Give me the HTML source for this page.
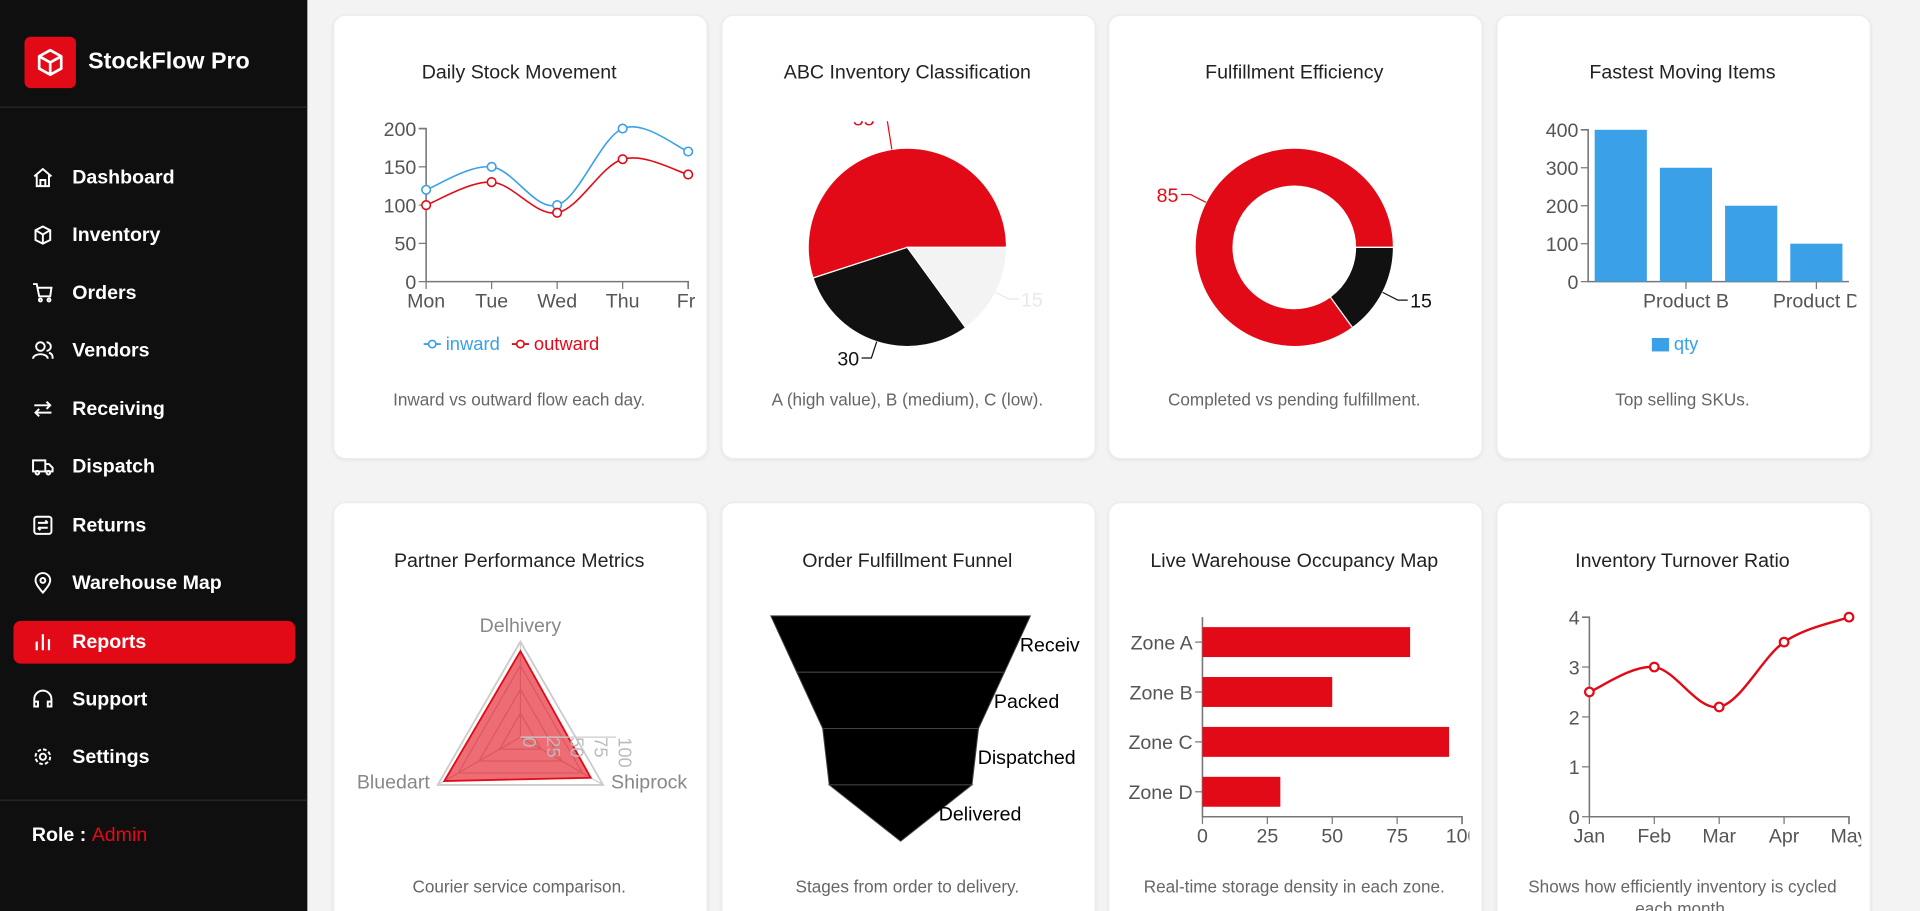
<!DOCTYPE html>
<html><head><meta charset="utf-8"><title>StockFlow Pro Reports</title>
<style>
html,body{margin:0;padding:0;width:1920px;height:911px;overflow:hidden;background:#f3f3f4;font-family:"Liberation Sans",sans-serif;}
#wrap{position:absolute;left:0;top:0;width:1568px;height:744px;overflow:hidden;transform:scale(1.22449);transform-origin:0 0;}
#sidebar{position:absolute;left:0;top:0;width:251px;height:744px;background:#0f0f0f;color:#fff;}
.logo{position:absolute;left:20px;top:30px;width:42px;height:42px;background:#e30a17;border-radius:5px;}
.brand{position:absolute;left:72px;top:40px;font-size:19px;font-weight:bold;color:#fff;}
.divider{position:absolute;left:0;width:251px;height:1px;background:#2b2b2b;}
.nav{position:absolute;left:11px;width:230px;height:35px;border-radius:6px;}
.nav.active{background:#e30a17;}
.nav svg{position:absolute;left:15px;top:8px;}
.nav span{position:absolute;left:48px;top:9px;font-size:16px;font-weight:bold;color:#fff;}
.role{position:absolute;left:26px;top:674px;font-size:16px;color:#fff;font-weight:bold;}
.role b{color:#e30a17;font-weight:normal;}
.card{position:absolute;background:#fff;border-radius:10px;border:1px solid #ececef;box-shadow:0 1px 3px rgba(0,0,0,0.06);}
.title{position:absolute;width:304px;text-align:center;font-size:16px;color:#222;}
.desc{position:absolute;width:304px;text-align:center;font-size:14px;color:#666;line-height:18px;}
svg.chart{position:absolute;overflow:hidden;}
svg text{font-family:"Liberation Sans",sans-serif;}
</style></head><body>
<div id="wrap">
<div id="sidebar">
  <div class="logo">
    <svg width="42" height="42" viewBox="0 0 42 42"><g fill="none" stroke="#fff" stroke-width="2.2" stroke-linejoin="round"><path d="M21 11 L30 16 L30 26 L21 31 L12 26 L12 16 Z"/><path d="M12 16 L21 21 L30 16 M21 21 L21 31"/></g></svg>
  </div>
  <div class="brand">StockFlow Pro</div>
  <div class="divider" style="top:87px"></div>
  <div class="nav" style="top:128px"><svg width="18" height="18" viewBox="0 0 18 18" fill="none" stroke="#fff" stroke-width="1.6"><path d="M2 8 L9 2 L16 8 M4 7 V16 H14 V7 M7 16 V11 H11 V16"/></svg><span>Dashboard</span></div>
  <div class="nav" style="top:175px"><svg width="18" height="18" viewBox="0 0 18 18" fill="none" stroke="#fff" stroke-width="1.6"><path d="M9 2 L15 5 V13 L9 16 L3 13 V5 Z M3 5 L9 8.5 L15 5 M9 8.5 V16"/></svg><span>Inventory</span></div>
  <div class="nav" style="top:222px"><svg width="18" height="18" viewBox="0 0 18 18" fill="none" stroke="#fff" stroke-width="1.6"><path d="M1 2 H4 L6 12 H15 L16 5 H5"/><circle cx="7" cy="15" r="1.2"/><circle cx="14" cy="15" r="1.2"/></svg><span>Orders</span></div>
  <div class="nav" style="top:269px"><svg width="18" height="18" viewBox="0 0 18 18" fill="none" stroke="#fff" stroke-width="1.6"><circle cx="7" cy="6" r="3.5"/><path d="M1 16 C1 11 13 11 13 16 M12 2.5 A3.5 3.5 0 0 1 12 9.5 M14 11 C17 12 17 14 17 16"/></svg><span>Vendors</span></div>
  <div class="nav" style="top:317px"><svg width="18" height="18" viewBox="0 0 18 18" fill="none" stroke="#fff" stroke-width="1.6"><path d="M2 6 H15 M12 3 L15 6 L12 9 M16 12 H3 M6 9 L3 12 L6 15"/></svg><span>Receiving</span></div>
  <div class="nav" style="top:364px"><svg width="18" height="18" viewBox="0 0 18 18" fill="none" stroke="#fff" stroke-width="1.6"><path d="M1 4 H11 V13 H1 Z M11 7 H14 L17 10 V13 H11"/><circle cx="4.5" cy="14" r="1.5"/><circle cx="13.5" cy="14" r="1.5"/></svg><span>Dispatch</span></div>
  <div class="nav" style="top:412px"><svg width="18" height="18" viewBox="0 0 18 18" fill="none" stroke="#fff" stroke-width="1.6"><rect x="2" y="2" width="14" height="14" rx="2"/><path d="M5 7 H13 M11 5 L13 7 M13 11 H5 M7 13 L5 11"/></svg><span>Returns</span></div>
  <div class="nav" style="top:459px"><svg width="18" height="18" viewBox="0 0 18 18" fill="none" stroke="#fff" stroke-width="1.6"><path d="M9 17 C4 11 3 9 3 7 A6 6 0 0 1 15 7 C15 9 14 11 9 17 Z"/><circle cx="9" cy="7" r="2"/></svg><span>Warehouse Map</span></div>
  <div class="nav active" style="top:507px"><svg width="18" height="18" viewBox="0 0 18 18" fill="none" stroke="#fff" stroke-width="1.8"><path d="M4 16 V9 M9 16 V3 M14 16 V7"/></svg><span>Reports</span></div>
  <div class="nav" style="top:554px"><svg width="18" height="18" viewBox="0 0 18 18" fill="none" stroke="#fff" stroke-width="1.6"><path d="M2 11 V9 A7 7 0 0 1 16 9 V11 M2 11 H5 V15 H2 Z M13 11 H16 V15 H13 Z"/></svg><span>Support</span></div>
  <div class="nav" style="top:601px"><svg width="18" height="18" viewBox="0 0 18 18" fill="none" stroke="#fff" stroke-width="1.6"><circle cx="9" cy="9" r="2.5"/><circle cx="9" cy="9" r="6" stroke-dasharray="3 1.7"/></svg><span>Settings</span></div>
  <div class="divider" style="top:653px"></div>
  <div class="role">Role : <b>Admin</b></div>
</div>

<div class="card" style="left:272px;top:12px;width:304px;height:361px"></div>
<div class="card" style="left:589px;top:12px;width:304px;height:361px"></div>
<div class="card" style="left:905px;top:12px;width:304px;height:361px"></div>
<div class="card" style="left:1222px;top:12px;width:304px;height:361px"></div>
<div class="card" style="left:272px;top:410px;width:304px;height:360px"></div>
<div class="card" style="left:589px;top:410px;width:304px;height:360px"></div>
<div class="card" style="left:905px;top:410px;width:304px;height:360px"></div>
<div class="card" style="left:1222px;top:410px;width:304px;height:360px"></div>

<div class="title" style="left:272px;top:51px">Daily Stock Movement</div>
<div class="title" style="left:589px;top:51px">ABC Inventory Classification</div>
<div class="title" style="left:905px;top:51px">Fulfillment Efficiency</div>
<div class="title" style="left:1222px;top:51px">Fastest Moving Items</div>
<div class="title" style="left:272px;top:450px">Partner Performance Metrics</div>
<div class="title" style="left:589px;top:450px">Order Fulfillment Funnel</div>
<div class="title" style="left:905px;top:450px">Live Warehouse Occupancy Map</div>
<div class="title" style="left:1222px;top:450px">Inventory Turnover Ratio</div>

<div class="desc" style="left:272px;top:317px">Inward vs outward flow each day.</div>
<div class="desc" style="left:589px;top:317px">A (high value), B (medium), C (low).</div>
<div class="desc" style="left:905px;top:317px">Completed vs pending fulfillment.</div>
<div class="desc" style="left:1222px;top:317px">Top selling SKUs.</div>
<div class="desc" style="left:272px;top:715px">Courier service comparison.</div>
<div class="desc" style="left:589px;top:715px">Stages from order to delivery.</div>
<div class="desc" style="left:905px;top:715px">Real-time storage density in each zone.</div>
<div class="desc" style="left:1232px;top:715px;width:284px">Shows how efficiently inventory is cycled each month.</div>

<svg id="c1" class="chart" style="left:292px;top:96px" width="276" height="200" viewBox="292 96 276 200"></svg>
<svg id="c2" class="chart" style="left:613px;top:99px" width="256" height="203" viewBox="613 99 256 203"></svg>
<svg id="c3" class="chart" style="left:925px;top:96px" width="264" height="206" viewBox="925 96 264 206"></svg>
<svg id="c4" class="chart" style="left:1240px;top:96px" width="276" height="200" viewBox="1240 96 276 200"></svg>
<svg id="c5" class="chart" style="left:280px;top:495px" width="290" height="200" viewBox="280 495 290 200"></svg>
<svg id="c6" class="chart" style="left:600px;top:495px" width="282" height="200" viewBox="600 495 282 200"></svg>
<svg id="c7" class="chart" style="left:910px;top:495px" width="290" height="200" viewBox="910 495 290 200"></svg>
<svg id="c8" class="chart" style="left:1240px;top:490px" width="280" height="205" viewBox="1240 490 280 205"></svg>
</div>

<script>
// ---- data ----
const dayLabels = ["Mon","Tue","Wed","Thu","Fri"];
const inwardValues = [120,150,100,200,170];
const outwardValues = [100,130,90,160,140];
const stockTicks = [0,50,100,150,200];
const abcLabels = ["A","B","C"];
const abcValues = [55,30,15];
const fulfillLabels = ["Completed","Pending"];
const fulfillValues = [85,15];
const productLabels = ["Product A","Product B","Product C","Product D"];
const productQty = [400,300,200,100];
const qtyTicks = [0,100,200,300,400];
const partnerLabels = ["Delhivery","Shiprock","Bluedart"];
const partnerScores = [90,85,92];
const radarTicks = [0,25,50,75,100];
const funnelStages = ["Received","Packed","Dispatched","Delivered"];
const funnelValues = [100,80,60,55];
const zoneLabels = ["Zone A","Zone B","Zone C","Zone D"];
const zoneOccupancy = [80,50,95,30];
const occTicks = [0,25,50,75,100];
const monthLabels = ["Jan","Feb","Mar","Apr","May"];
const turnoverValues = [2.5,3,2.2,3.5,4];
const turnoverTicks = [0,1,2,3,4];

const NS="http://www.w3.org/2000/svg";
function mk(parent,tag,attrs,text){const e=document.createElementNS(NS,tag);for(const k in attrs)e.setAttribute(k,attrs[k]);if(text!==undefined)e.textContent=text;parent.appendChild(e);return e;}
function lin(d0,d1,r0,r1){return v=>r0+(v-d0)/(d1-d0)*(r1-r0);}
function curvePath(pts){let d="M"+pts[0][0]+","+pts[0][1];for(let i=0;i<pts.length-1;i++){const p0=pts[i-1]||pts[i],p1=pts[i],p2=pts[i+1],p3=pts[i+2]||p2;const c1=[p1[0]+(p2[0]-p0[0])/6,p1[1]+(p2[1]-p0[1])/6],c2=[p2[0]-(p3[0]-p1[0])/6,p2[1]-(p3[1]-p1[1])/6];d+=" C"+c1+" "+c2+" "+p2;}return d;}
const AX="#777",TX="#555";

// ---- chart 1 ----
(function(){
const s=document.getElementById("c1");
const x=i=>lin(0,dayLabels.length-1,348,562)(i), y=lin(0,200,230,105);
mk(s,"path",{d:"M342,105 H348 V230 H562 V236",fill:"none",stroke:AX,"stroke-width":1.3});
stockTicks.forEach(t=>{mk(s,"line",{x1:342,x2:348,y1:y(t),y2:y(t),stroke:AX});
 const tl=mk(s,"text",{x:340,y:y(t)+6,"text-anchor":"end","font-size":16,fill:TX},t);
 
 });
dayLabels.forEach((d,i)=>{mk(s,"line",{x1:x(i),x2:x(i),y1:230,y2:236,stroke:AX});
 const tl=mk(s,"text",{x:x(i),y:251,"text-anchor":"middle","font-size":16,fill:TX},d);
 
 });
[[inwardValues,"#3aa0e8","inward"],[outwardValues,"#e30a17","outward"]].forEach(([vals,c,n])=>{
 const pts=vals.map((v,i)=>[x(i),y(v)]);
 const p=mk(s,"path",{d:curvePath(pts),fill:"none",stroke:c,"stroke-width":1.3});
 
 
 pts.forEach(pt=>{const ci=mk(s,"circle",{cx:pt[0],cy:pt[1],r:3.5,fill:"#fff",stroke:c,"stroke-width":1.3});
  
  });
});
const lg=[[346,"#3aa0e8","inward"],[418,"#e30a17","outward"]];
lg.forEach(([lx,c,n])=>{const g=mk(s,"g",{});
 
 
 mk(g,"line",{x1:lx,x2:lx+14,y1:281,y2:281,stroke:c,"stroke-width":1.5});
 mk(g,"circle",{cx:lx+7,cy:281,r:3,fill:"#fff",stroke:c,"stroke-width":1.3});
 mk(g,"text",{x:lx+18,y:286,"font-size":15,fill:c},n);});
})();

function arcPath(cx,cy,r0,r1,a0,a1){const rad=a=>a*Math.PI/180;const P=(r,a)=>[cx+r*Math.cos(rad(a)),cy-r*Math.sin(rad(a))];const large=(a1-a0)>180?1:0;
 const o0=P(r1,a0),o1=P(r1,a1);let d="M"+(r0>0?P(r0,a0):[cx,cy])+" L"+o0+" A"+r1+","+r1+" 0 "+large+" 0 "+o1;
 if(r0>0){const i1=P(r0,a1),i0=P(r0,a0);d+=" L"+i1+" A"+r0+","+r0+" 0 "+large+" 1 "+i0;}return d+" Z";}
function pieChart(id,labels,vals,colors,labelColors,cx,cy,r0,r1,name,lr){
 const s=document.getElementById(id);const tot=vals.reduce((a,b)=>a+b,0);let a=0;
 vals.forEach((v,i)=>{const a1=a+v/tot*360;
  const p=mk(s,"path",{d:arcPath(cx,cy,r0,r1,a,a1),fill:colors[i],stroke:"#fff","stroke-width":1});
  
  
  const m=(a+a1)/2*Math.PI/180,c=Math.cos(m),sn=-Math.sin(m);const L=lr[i];
  mk(s,"polyline",{points:[cx+c*(r1),cy+sn*(r1)]+" "+[cx+c*(r1+L),cy+sn*(r1+L)]+" "+[cx+c*(r1+L)+(c>0?8:-8),cy+sn*(r1+L)],fill:"none",stroke:labelColors[i]});
  const t=mk(s,"text",{x:cx+c*(r1+L)+(c>0?10:-10),y:cy+sn*(r1+L)+6,"text-anchor":c>0?"start":"end","font-size":16,fill:labelColors[i]},v);
  
  
  a=a1;});
}
pieChart("c2",abcLabels,abcValues,["#e30a17","#111111","#f3f3f3"],["#e30a17","#111111","#e8e8e8"],741,202,0,81,"abc",[26,14,12]);
pieChart("c3",fulfillLabels,fulfillValues,["#e30a17","#111111"],["#e30a17","#111111"],1057,202,50,81,"fulfillment",[14,14]);

// ---- chart 4 ----
(function(){
const s=document.getElementById("c4");
const y=lin(0,400,230,106);const x0=1297,x1=1510,step=(x1-x0)/productLabels.length,bw=step*0.8;
mk(s,"path",{d:"M1291,106 H1297 V230 H"+x1,fill:"none",stroke:AX,"stroke-width":1.3});
qtyTicks.forEach(t=>{mk(s,"line",{x1:1291,x2:1297,y1:y(t),y2:y(t),stroke:AX});
 const tl=mk(s,"text",{x:1289,y:y(t)+6,"text-anchor":"end","font-size":16,fill:TX},t);
 
 });
productLabels.forEach((p,i)=>{const bx=x0+step*i+step*0.1;
 const r=mk(s,"rect",{x:bx,y:y(productQty[i]),width:bw,height:230-y(productQty[i]),fill:"#3aa0e8"});
 
 
 if(i%2===1){const cx=x0+step*(i+0.5);mk(s,"line",{x1:cx,x2:cx,y1:230,y2:236,stroke:AX});
  const tl=mk(s,"text",{x:cx,y:251,"text-anchor":"middle","font-size":16,fill:TX},p);
  
  }
});
const g=mk(s,"g",{});


mk(g,"rect",{x:1349,y:276,width:14,height:11,fill:"#3aa0e8"});
mk(g,"text",{x:1367,y:286,"font-size":15,fill:"#3aa0e8"},"qty");
})();

// ---- chart 5 radar ----
(function(){
const s=document.getElementById("c5");const cx=425,cy=602,R=78;
const ang=i=>(-90+i*120)*Math.PI/180;const P=(r,i)=>[cx+r*Math.cos(ang(i)),cy+r*Math.sin(ang(i))];
radarTicks.slice(1).forEach(t=>{const r=t/100*R;mk(s,"polygon",{points:[0,1,2].map(i=>P(r,i)).join(" "),fill:"none",stroke:"#ccc","stroke-width":t===100?1.5:1});});
[0,1,2].forEach(i=>mk(s,"line",{x1:cx,y1:cy,x2:P(R,i)[0],y2:P(R,i)[1],stroke:"#ccc"}));
const poly=mk(s,"polygon",{points:partnerScores.map((v,i)=>P(v/100*R,i)).join(" "),fill:"rgba(227,10,23,0.6)",stroke:"#e30a17","stroke-width":1.5});


mk(s,"line",{x1:cx,y1:cy,x2:cx+R,y2:cy,stroke:"#ccc"});
radarTicks.forEach(t=>{const tx=cx+t/100*R;const tl=mk(s,"text",{x:tx,y:cy,"font-size":15,fill:"#bbb",transform:"rotate(90 "+tx+" "+cy+")","dominant-baseline":"middle",dy:"-6"},t);
 
 });
const lp=[[425,516,"middle"],[499,644,"start"],[351,644,"end"]];
partnerLabels.forEach((l,i)=>{const [lx,ly,an]=lp[i];const tl=mk(s,"text",{x:i===0?P(R,0)[0]:lx,y:ly,"text-anchor":an,"font-size":16,fill:"#888"},l);
 
 });
})();

// ---- chart 6 funnel ----
(function(){
const s=document.getElementById("c6");const cx=735.5,top=503,h=46,wMax=212;const w=v=>v/funnelValues[0]*wMax;
funnelStages.forEach((st,i)=>{const y0=top+h*i,y1=y0+h;const wt=w(funnelValues[i]);const wb=i<funnelValues.length-1?w(funnelValues[i+1]):0;
 const p=mk(s,"polygon",{points:[[cx-wt/2,y0],[cx+wt/2,y0],[cx+wb/2,y1],[cx-wb/2,y1]].join(" "),fill:"#000",stroke:"#444","stroke-width":0.8});
 
 
 const lx=cx+(wt+wb)/4+2;
 const t=mk(s,"text",{x:lx,y:y0+h/2+6,"font-size":16,fill:"#000"},st);
 
 });
})();

// ---- chart 7 hbar ----
(function(){
const s=document.getElementById("c7");const x=lin(0,100,982,1194);const yt=504,yb=667,step=(yb-yt)/zoneLabels.length;
mk(s,"path",{d:"M982,"+yt+" V"+yb+" H1194 V"+(yb+6),fill:"none",stroke:AX,"stroke-width":1.3});
occTicks.forEach(t=>{mk(s,"line",{x1:x(t),x2:x(t),y1:yb,y2:yb+6,stroke:AX});
 const tl=mk(s,"text",{x:x(t),y:yb+21,"text-anchor":"middle","font-size":16,fill:TX},t);
 
 });
zoneLabels.forEach((z,i)=>{const by=yt+step*i+step*0.2;
 const r=mk(s,"rect",{x:982,y:by,width:x(zoneOccupancy[i])-982,height:step*0.6,fill:"#e30a17"});
 
 
 const cy=yt+step*(i+0.5);mk(s,"line",{x1:976,x2:982,y1:cy,y2:cy,stroke:AX});
 const tl=mk(s,"text",{x:974,y:cy+6,"text-anchor":"end","font-size":16,fill:TX},z);
 
 });
})();

// ---- chart 8 turnover ----
(function(){
const s=document.getElementById("c8");const x=i=>lin(0,monthLabels.length-1,1298,1510)(i),y=lin(0,4,667,504);
mk(s,"path",{d:"M1292,504 H1298 V667 H1510 V673",fill:"none",stroke:AX,"stroke-width":1.3});
turnoverTicks.forEach(t=>{mk(s,"line",{x1:1292,x2:1298,y1:y(t),y2:y(t),stroke:AX});
 const tl=mk(s,"text",{x:1290,y:y(t)+6,"text-anchor":"end","font-size":16,fill:TX},t);
 
 });
monthLabels.forEach((m,i)=>{mk(s,"line",{x1:x(i),x2:x(i),y1:667,y2:673,stroke:AX});
 const tl=mk(s,"text",{x:x(i),y:688,"text-anchor":"middle","font-size":16,fill:TX},m);
 
 });
const pts=turnoverValues.map((v,i)=>[x(i),y(v)]);
const p=mk(s,"path",{d:curvePath(pts),fill:"none",stroke:"#e30a17","stroke-width":2});


pts.forEach(pt=>{const c=mk(s,"circle",{cx:pt[0],cy:pt[1],r:3.5,fill:"#fff",stroke:"#e30a17","stroke-width":1.8});
 
 });
})();
</script>
</body></html>
